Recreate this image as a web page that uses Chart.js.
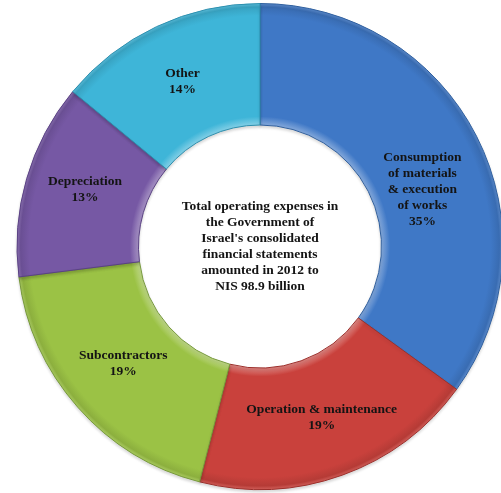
<!DOCTYPE html>
<html lang="en">

<head>
    <meta charset="UTF-8">
    <title>Government operating expenses 2012</title>
    <script src="https://cdn.jsdelivr.net/npm/chart.js"></script>
    <style>
        html,
        body {
            margin: 0;
            padding: 0;
            background: white;
            overflow: hidden;
        }

        #expenseChart {
            position: absolute;
            left: 0;
            top: 0;
        }
    </style>
</head>

<body>
    <canvas id="expenseChart" width="520" height="493"></canvas>

    <script>
        // Expense categories (wrapped the way they are printed on the ring)
        const categories = [
            ['Consumption', 'of materials', '& execution', 'of works'],
            ['Operation & maintenance'],
            ['Subcontractors'],
            ['Depreciation'],
            ['Other']
        ];
        const shares = [35, 19, 19, 13, 14];
        const sliceColors = ['#3f78c6', '#c9413c', '#9bc245', '#7658a4', '#3eb5d8'];
        const edgeColors = ['#2f5f9e', '#9c2f2b', '#76993a', '#5a4184', '#2d8fae'];
        const centerLines = [
            'Total operating expenses in',
            'the Government of',
            "Israel's consolidated",
            'financial statements',
            'amounted in 2012 to',
            'NIS 98.9 billion'
        ];

        const FONT = 'bold 13.5px "Liberation Serif", "DejaVu Serif", serif';
        const LINE = 16;

        function shade(hex, amt) {
            const n = parseInt(hex.slice(1), 16);
            let r = (n >> 16) & 255, g = (n >> 8) & 255, b = n & 255;
            const f = c => Math.max(0, Math.min(255, Math.round(amt > 0 ? c + (255 - c) * amt : c * (1 + amt))));
            return `rgb(${f(r)},${f(g)},${f(b)})`;
        }

        // bevel-ish fill: lighter towards the hole, slightly darker at the rim
        function ringFill(context) {
            const chart = context.chart;
            const base = sliceColors[context.dataIndex];
            const area = chart.chartArea;
            const ctrl = chart.getDatasetMeta(0).controller;
            if (!area || !ctrl || !ctrl.outerRadius) return base;
            const cx = (area.left + area.right) / 2;
            const cy = (area.top + area.bottom) / 2;
            const g = chart.ctx.createRadialGradient(cx, cy, ctrl.innerRadius, cx, cy, ctrl.outerRadius);
            g.addColorStop(0, shade(base, 0.35));
            g.addColorStop(0.07, base);
            g.addColorStop(0.9, base);
            g.addColorStop(0.97, shade(base, -0.1));
            g.addColorStop(1, shade(base, 0.15));
            return g;
        }

        const ringDecor = {
            id: 'ringDecor',
            beforeDatasetsDraw(chart) {
                const ctx = chart.ctx;
                ctx.save();
                ctx.shadowColor = 'rgba(0,0,0,0.15)';
                ctx.shadowBlur = 3;
                ctx.shadowOffsetY = 2;
            },
            afterDatasetsDraw(chart, args, opts) {
                const ctx = chart.ctx;
                ctx.restore();

                const meta = chart.getDatasetMeta(0);
                ctx.save();
                ctx.font = FONT;
                ctx.fillStyle = '#141414';
                ctx.textAlign = 'center';
                ctx.textBaseline = 'middle';

                meta.data.forEach((arc, i) => {
                    const p = arc.getProps(['x', 'y', 'startAngle', 'endAngle', 'innerRadius', 'outerRadius'], true);
                    const mid = (p.startAngle + p.endAngle) / 2;
                    const r = (p.innerRadius + p.outerRadius) / 2;
                    const shift = (opts.shiftY && opts.shiftY[i]) || 0;
                    const lx = p.x + Math.cos(mid) * r;
                    const ly = p.y + Math.sin(mid) * r + shift;
                    const lines = categories[i].concat([shares[i] + '%']);
                    const top = ly - (lines.length - 1) * LINE / 2;
                    lines.forEach((t, k) => ctx.fillText(t, lx, top + k * LINE));
                });

                // note in the hole
                const a = chart.chartArea;
                const cx = (a.left + a.right) / 2;
                const cy = (a.top + a.bottom) / 2;
                const top = cy - (centerLines.length - 1) * LINE / 2;
                centerLines.forEach((t, k) => ctx.fillText(t, cx, top + k * LINE));
                ctx.restore();
            }
        };

        const ctx = document.getElementById('expenseChart').getContext('2d');
        const expenseChart = new Chart(ctx, {
            type: 'doughnut',
            data: {
                labels: categories,
                datasets: [{
                    data: shares,
                    backgroundColor: ringFill,
                    borderColor: edgeColors,
                    borderWidth: 1,
                    hoverOffset: 0
                }]
            },
            options: {
                responsive: false,
                animation: false,
                cutout: '50%',
                layout: { padding: { top: 3, bottom: 3 } },
                plugins: {
                    legend: { display: false },
                    tooltip: { enabled: false },
                    ringDecor: { shiftY: [26, 0, -4, -6, 0] }
                }
            },
            plugins: [ringDecor]
        });
    </script>
</body>

</html>
